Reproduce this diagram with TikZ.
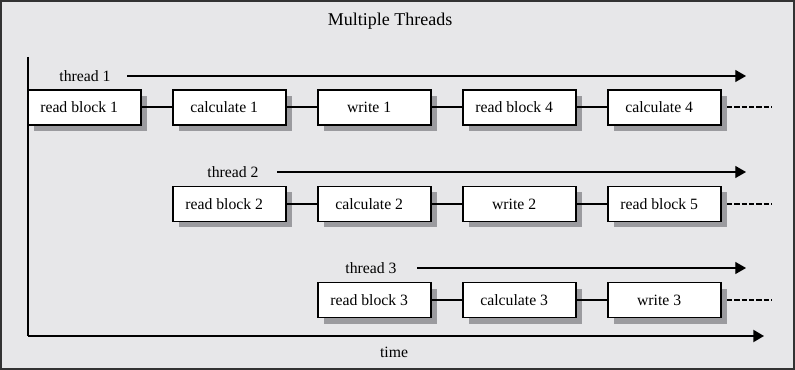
\documentclass[tikz,border=0pt]{standalone}
\usepackage{fontspec}
\setmainfont{Liberation Serif}
\usetikzlibrary{shadows,arrows.meta}
\definecolor{bg}{HTML}{E7E7E9}
\definecolor{shd}{HTML}{9B9B9F}
\definecolor{frm}{HTML}{333333}
\begin{document}
\begin{tikzpicture}[x=0.75pt,y=-0.75pt,
  stepbox/.style={draw=black,line width=1.1pt,fill=white,minimum width=84.75pt,minimum height=26.25pt,inner sep=0pt,
    font=\fontsize{11.8}{13}\selectfont,execute at end node={\kern8pt},
    drop shadow={shadow xshift=4.5pt,shadow yshift=-4.5pt,fill=shd,opacity=1}},
  link/.style={line width=1.5pt},
  tail/.style={line width=1.5pt,dash pattern=on 4pt off 1.5pt},
  tarrow/.style={line width=0.8pt,-{Triangle[length=8pt,width=9pt]}},
  axis/.style={line width=1.5pt,-{Triangle[length=8pt,width=9pt]}},
  lbl/.style={font=\fontsize{11.8}{13}\selectfont,inner sep=0pt}]
\fill[bg] (0,0) rectangle (795,370);
\draw[frm,line width=1.5pt] (1,1) rectangle (794,369);
\useasboundingbox (0,0) rectangle (795,370);
\node[font=\fontsize{13.5}{16}\selectfont] (title) at (390,21) {Multiple Threads};
% axes
\coordinate (otop) at (28,57);
\coordinate (origin) at (28,336);
\coordinate (tend) at (764,336);
\draw[line width=1.5pt] (otop) -- (origin);
\draw[axis] (origin) -- (tend);
\node[lbl] (time) at (394,352) {time};
% thread 1
\node[lbl] (t1) at (85,76) {thread 1};
\coordinate (t1s) at (127,76);
\coordinate (t1e) at (746,76);
\draw[tarrow] (t1s) -- (t1e);
\node[stepbox] (a1) at (84.5,107.5) {read block 1};
\node[stepbox] (a2) at (229.5,107.5) {calculate 1};
\node[stepbox] (a3) at (374.5,107.5) {write 1};
\node[stepbox] (a4) at (519.5,107.5) {read block 4};
\node[stepbox] (a5) at (664.5,107.5) {calculate 4};
\draw[link] (a1) -- (a2);
\draw[link] (a2) -- (a3);
\draw[link] (a3) -- (a4);
\draw[link] (a4) -- (a5);
\coordinate (a6s) at (727,107.5);
\coordinate (a6e) at (772,107.5);
\draw[tail] (a6s) -- (a6e);
% thread 2
\node[lbl] (t2) at (233,172) {thread 2};
\coordinate (t2s) at (277,172);
\coordinate (t2e) at (746,172);
\draw[tarrow] (t2s) -- (t2e);
\node[stepbox] (b1) at (229.5,204) {read block 2};
\node[stepbox] (b2) at (374.5,204) {calculate 2};
\node[stepbox] (b3) at (519.5,204) {write 2};
\node[stepbox] (b4) at (664.5,204) {read block 5};
\draw[link] (b1) -- (b2);
\draw[link] (b2) -- (b3);
\draw[link] (b3) -- (b4);
\coordinate (b5s) at (727,204);
\coordinate (b5e) at (772,204);
\draw[tail] (b5s) -- (b5e);
% thread 3
\node[lbl] (t3) at (371,268) {thread 3};
\coordinate (t3s) at (417,268);
\coordinate (t3e) at (746,268);
\draw[tarrow] (t3s) -- (t3e);
\node[stepbox] (c1) at (374.5,300) {read block 3};
\node[stepbox] (c2) at (519.5,300) {calculate 3};
\node[stepbox] (c3) at (664.5,300) {write 3};
\draw[link] (c1) -- (c2);
\draw[link] (c2) -- (c3);
\coordinate (c4s) at (727,300);
\coordinate (c4e) at (772,300);
\draw[tail] (c4s) -- (c4e);
\end{tikzpicture}
\end{document}
